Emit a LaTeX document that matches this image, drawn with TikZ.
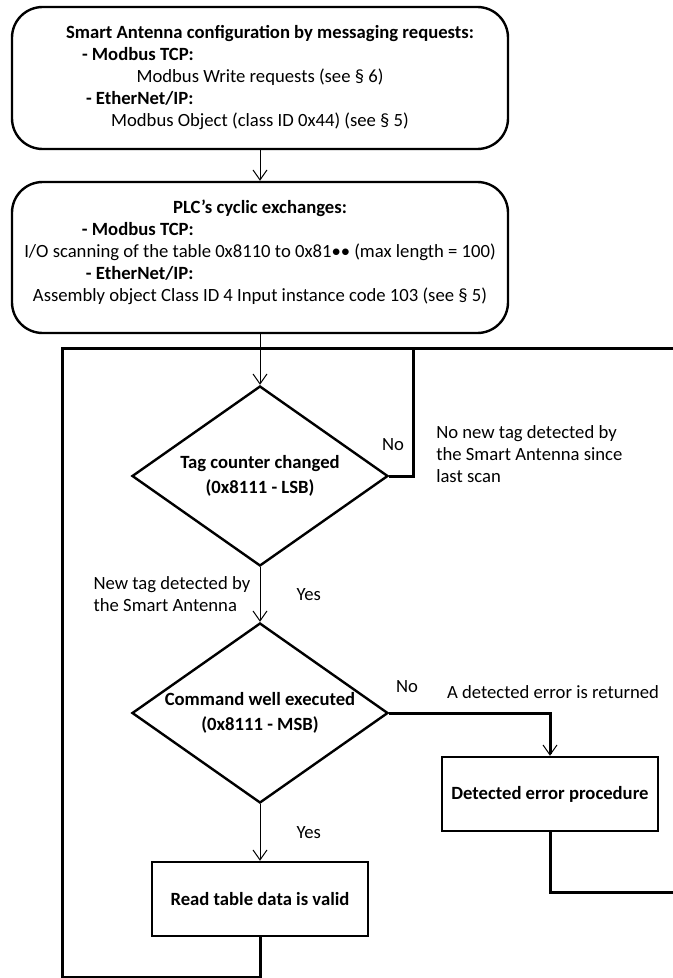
\documentclass[tikz,border=0pt]{standalone}
\usepackage{fontspec}
\setmainfont{Carlito}
\usetikzlibrary{shapes.geometric,arrows.meta}

\begin{document}
\begin{tikzpicture}[x=0.75pt,y=-0.75pt,>={Straight Barb[length=7.5pt,width=10.5pt,line width=0.75pt]},line join=miter]
 \tikzstyle{roundbox}=[draw,line width=1.8pt,rounded corners=23pt,minimum width=372pt,align=center,inner sep=0pt,font=\fontsize{14pt}{16.5pt}\selectfont]
 \tikzstyle{decision}=[diamond,draw,line width=1.8pt,aspect=1.42,minimum width=192pt,minimum height=135pt,inner sep=0pt,align=center,font=\bfseries\fontsize{14pt}{18.75pt}\selectfont]
 \tikzstyle{process}=[rectangle,draw,line width=1.8pt,minimum width=162pt,minimum height=55.5pt,font=\bfseries\fontsize{14pt}{16.5pt}\selectfont]
 \tikzstyle{frame}=[line width=2.25pt]
 \tikzstyle{flow}=[->,line width=0.75pt]
 \tikzstyle{lbl}=[inner sep=0pt,align=left,font=\fontsize{14pt}{16.5pt}\selectfont]

\useasboundingbox (0,0) rectangle (673,978);

\node[roundbox,minimum height=106.5pt] (cfg) at (260,78)
  {\hspace*{15pt}\textbf{Smart Antenna configuration by messaging requests:}\\
   \makebox[267pt][l]{\textbf{- Modbus TCP:}}\\
   Modbus Write requests (see § 6)\\
   \makebox[261pt][l]{\textbf{- EtherNet/IP:}}\\
   Modbus Object (class ID 0x44) (see § 5)};
\node[roundbox,minimum height=113.25pt] (plc) at (260,257.5)
  {\textbf{PLC’s cyclic exchanges:}\\
   \makebox[267pt][l]{\textbf{- Modbus TCP:}}\\
   I/O scanning of the table 0x8110 to 0x81•• (max length = 100)\\
   \makebox[261pt][l]{\textbf{- EtherNet/IP:}}\\
   Assembly object Class ID 4 Input instance code 103 (see § 5)\\[-6pt]\mbox{}};
\node[decision] (tag)   at (260,476) {Tag counter changed\\(0x8111 - LSB)};
\node[decision] (cmd)   at (260,713) {Command well executed\\(0x8111 - MSB)};
\node[process]  (err)   at (550,794) {Detected error procedure};
\node[process]  (valid) at (260,899) {Read table data is valid};

\coordinate (topL)  at (62,348);
\coordinate (topR)  at (673,348);
\coordinate (botL)  at (62,977);
\coordinate (loopN) at (413,348);
\coordinate (errR)  at (673,892);

\node[lbl] (tagno)  at (393,445) {No};
\node[lbl,anchor=north west] (tagnotxt) at (436,425) {No new tag detected by\\the Smart Antenna since\\last scan};
\node[lbl] (cmdno)  at (407,687) {No};
\node[lbl] (cmdnotxt) at (553,692) {A detected error is returned};

\path[flow] (cfg) edge (plc)
            (plc) edge (tag)
            (tag) edge node[lbl,right=27pt] {Yes}
                       node[lbl,left=7pt] {New tag detected by\\the Smart Antenna} (cmd)
            (cmd) edge node[lbl,right=27pt] {Yes} (valid);

\draw[frame] (tag.east) -- (tag.east -| loopN) -- (loopN);
\draw[frame,->] (cmd.east) -| (err.north);
\draw[frame] (err.south) |- (errR);
\draw[frame] (valid.south) |- (botL) -- (topL) -- (topR);
\end{tikzpicture}
\end{document}
